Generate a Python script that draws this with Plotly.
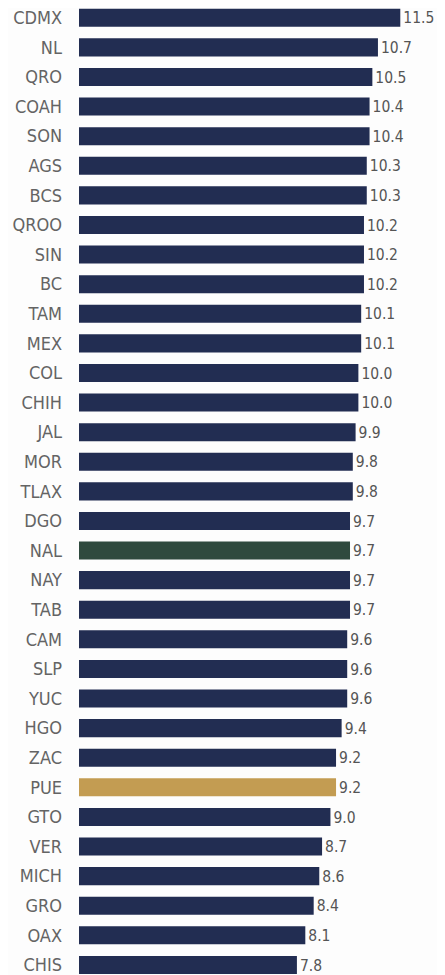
import plotly.graph_objects as go

states = ["CDMX", "NL", "QRO", "COAH", "SON", "AGS", "BCS", "QROO", "SIN", "BC",
          "TAM", "MEX", "COL", "CHIH", "JAL", "MOR", "TLAX", "DGO", "NAL", "NAY",
          "TAB", "CAM", "SLP", "YUC", "HGO", "ZAC", "PUE", "GTO", "VER", "MICH",
          "GRO", "OAX", "CHIS"]
values = [11.5, 10.7, 10.5, 10.4, 10.4, 10.3, 10.3, 10.2, 10.2, 10.2,
          10.1, 10.1, 10.0, 10.0, 9.9, 9.8, 9.8, 9.7, 9.7, 9.7,
          9.7, 9.6, 9.6, 9.6, 9.4, 9.2, 9.2, 9.0, 8.7, 8.6,
          8.4, 8.1, 7.8]

NAVY = "#222d52"
highlight = {"NAL": "#2f4a3e", "PUE": "#c39c52"}
colors = [highlight.get(s, NAVY) for s in states]
FONT = "DejaVu Sans Condensed, Liberation Sans Narrow, sans-serif"

fig = go.Figure(go.Bar(
    x=values, y=states, orientation="h",
    marker=dict(color=colors, line=dict(width=0)),
    text=[f"{v:.1f}" for v in values],
    textposition="outside",
    textfont=dict(family=FONT, size=18, color="#555555"),
    cliponaxis=False,
))

fig.update_layout(
    width=437, height=967,
    margin=dict(l=71, r=0, t=0, b=0, autoexpand=False),
    paper_bgcolor="#fdfdfd", plot_bgcolor="#fdfdfd",
    bargap=0.39,
    showlegend=False,
    xaxis=dict(range=[0, 13.1], visible=False, automargin=False),
    yaxis=dict(range=[32.34, -0.33], showgrid=False, zeroline=False, showline=False,
               automargin=False, ticks="", ticklabelstandoff=16,
               tickfont=dict(family=FONT, size=18, color="#646464")),
)

fig.write_html("out.html")
